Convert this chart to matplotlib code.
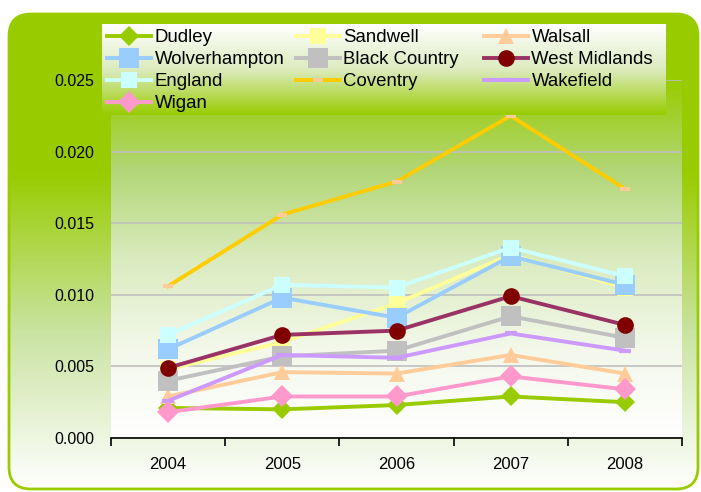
import numpy as np
import matplotlib
matplotlib.use('Agg')
import matplotlib.pyplot as plt
from matplotlib.colors import LinearSegmentedColormap
from matplotlib.patches import FancyBboxPatch

plt.rcParams['font.family'] = ['Liberation Sans', 'DejaVu Sans']

# data
years = ['2004', '2005', '2006', '2007', '2008']
dudley = [0.0021, 0.0020, 0.0023, 0.0029, 0.0025]
sandwell = [0.0048, 0.0067, 0.0094, 0.0128, 0.0105]
walsall = [0.0029, 0.0046, 0.0045, 0.0058, 0.0045]
wolverhampton = [0.0062, 0.0098, 0.0084, 0.0127, 0.0107]
black_country = [0.0040, 0.0057, 0.0061, 0.0085, 0.0070]
west_midlands = [0.0049, 0.0072, 0.0075, 0.0099, 0.0079]
england = [0.0072, 0.0107, 0.0105, 0.0133, 0.0113]
coventry = [0.0106, 0.0156, 0.0179, 0.0225, 0.0174]
wakefield = [0.0026, 0.0058, 0.0056, 0.0073, 0.0061]
wigan = [0.0018, 0.0029, 0.0029, 0.0043, 0.0034]

names = ['Dudley', 'Sandwell', 'Walsall', 'Wolverhampton', 'Black Country',
         'West Midlands', 'England', 'Coventry', 'Wakefield', 'Wigan']
values = [dudley, sandwell, walsall, wolverhampton, black_country,
          west_midlands, england, coventry, wakefield, wigan]

# line colour, marker, marker colour, marker size
styles = [
    ('#99CC00', 'D', '#99CC00', 10),
    ('#FFFF99', 's', '#FFFF99', 11),
    ('#FFCC99', '^', '#FFCC99', 12),
    ('#99CCFF', 's', '#99CCFF', 15),
    ('#C0C0C0', 's', '#C0C0C0', 15),
    ('#993366', 'o', '#800000', 12),
    ('#CCFFFF', 's', '#CCFFFF', 11),
    ('#FFCC00', '_', '#FFCC99', 7),
    ('#CC99FF', '_', '#CC99FF', 9),
    ('#FF99CC', 'D', '#FF99CC', 11),
]

green = '#99CC00'
W, H = 701, 492
fig = plt.figure(figsize=(W / 100, H / 100), dpi=100)
fig.patch.set_facecolor('white')
grad = np.linspace(0, 1, 256).reshape(-1, 1)

# background: rounded frame with green-to-white gradient
bg = fig.add_axes([0, 0, 1, 1], zorder=-2)
outer_cmap = LinearSegmentedColormap.from_list('outer', [green, green, '#C9E3A0', '#FFFFFF'])
frame = FancyBboxPatch((9, 14), 689, 475, boxstyle='round,pad=0,rounding_size=22',
                       facecolor='none', edgecolor=green, linewidth=2)
bg.add_patch(frame)
im = bg.imshow(grad, cmap=outer_cmap, extent=[9, 698, 489, 14], aspect='auto')
im.set_clip_path(frame)
bg.set_xlim(0, W)
bg.set_ylim(H, 0)
bg.axis('off')

# main axes
ax = fig.add_axes([111 / W, 1 - 438 / H, 571 / W, 358 / H])
plot_cmap = LinearSegmentedColormap.from_list(
    'plot', [green, '#B2D676', '#DAEBBF', '#F3F8EA', '#FFFFFF'])
ax.imshow(grad, cmap=plot_cmap, extent=[-0.5, 4.5, 0, 0.025], aspect='auto', zorder=0)

x = np.arange(len(years))
handles = []
for name, vals, (lc, mk, mc, ms) in zip(names, values, styles):
    mew = 3 if mk == '_' else 0
    h, = ax.plot(x, vals, color=lc, linewidth=2.8, marker=mk, markersize=ms,
                 markerfacecolor=mc, markeredgecolor=mc, markeredgewidth=mew,
                 label=name, zorder=3)
    handles.append(h)

ax.set_xlim(-0.5, 4.5)
ax.set_ylim(0, 0.025)
ax.set_yticks([0, 0.005, 0.010, 0.015, 0.020, 0.025])
ax.set_yticklabels(['0.000', '0.005', '0.010', '0.015', '0.020', '0.025'], fontsize=11.5)
ax.tick_params(axis='y', length=0, pad=12)
ax.set_xticks(np.arange(-0.5, 5, 1))
ax.set_xticklabels([])
ax.set_xticks(x, minor=True)
ax.set_xticklabels(years, minor=True, fontsize=12)
ax.tick_params(axis='x', which='major', length=6, direction='out', width=1.2)
ax.tick_params(axis='x', which='minor', length=0, pad=14)
ax.grid(axis='y', color='#BFBFBF', linewidth=1.2, zorder=1)
ax.set_axisbelow(True)
for s in ['left', 'right', 'top']:
    ax.spines[s].set_visible(False)
ax.spines['bottom'].set_linewidth(1.2)

# legend with gradient background, three columns filled row by row
lx0, lx1, ly0, ly1 = 102, 666, 24, 115
leg_ax = fig.add_axes([0, 0, 1, 1], zorder=5)
leg_ax.imshow(grad, cmap=LinearSegmentedColormap.from_list('leg', ['#FFFFFF', '#DCEBBE', green]),
              extent=[lx0, lx1, ly1, ly0], aspect='auto')
leg_ax.set_xlim(0, W)
leg_ax.set_ylim(H, 0)
leg_ax.axis('off')
columns = [[0, 3, 6, 9], [1, 4, 7], [2, 5, 8]]
col_x = [107, 296, 484]
for idx, cx in zip(columns, col_x):
    leg = leg_ax.legend([handles[i] for i in idx], [names[i] for i in idx],
                        loc='upper left', bbox_to_anchor=(cx / W, 1 - 29 / H),
                        bbox_transform=fig.transFigure, frameon=False, fontsize=13.4,
                        handlelength=2.35, handletextpad=0.2,
                        labelspacing=0.27, borderaxespad=0, borderpad=0)
    leg_ax.add_artist(leg)
leg_ax.legend_ = None

fig.savefig('out.png', dpi=100)
